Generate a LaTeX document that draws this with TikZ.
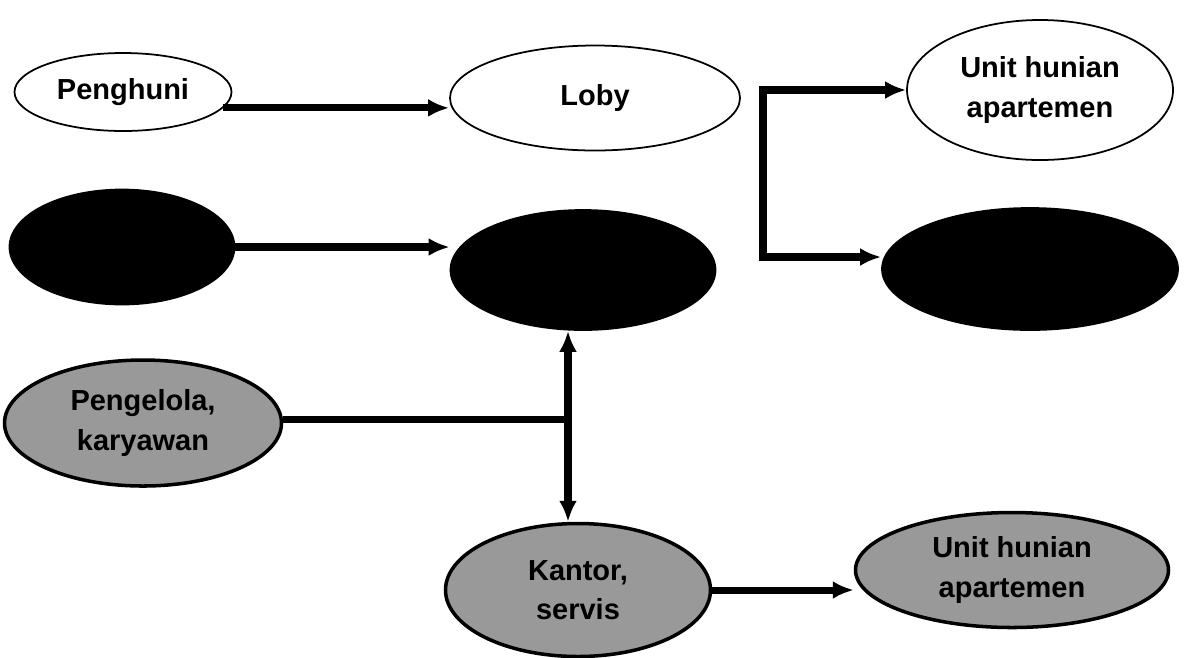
\documentclass[tikz,border=0pt]{standalone}
\usepackage{fontspec}
\setmainfont{Liberation Sans}
\usetikzlibrary{shapes.geometric,arrows.meta}

\begin{document}
\begin{tikzpicture}[x=0.02cm,y=-0.02cm,
  every node/.style={ellipse,draw,inner sep=0pt,align=center,
    font=\fontsize{16.5}{22.5}\selectfont\bfseries},
  plain/.style={fill=white,line width=1pt},
  dark/.style={fill=black,line width=1pt},
  shade/.style={fill=black!40,line width=2pt},
  thk/.style={line width=4pt},
  arr/.style={thk,-{Latex[length=0.42cm,width=0.36cm]}},
  dbl/.style={thk,{Latex[length=0.42cm,width=0.36cm]}-{Latex[length=0.42cm,width=0.36cm]}}]
\useasboundingbox (0,0) rectangle (1199,657);
% top row
\node [plain,minimum width=217*0.02cm,minimum height=78*0.02cm] (peng) at (123,92) {Penghuni};
\node [plain,minimum width=290*0.02cm,minimum height=105*0.02cm] (loby) at (595,98) {Loby};
\node [plain,minimum width=266*0.02cm,minimum height=140*0.02cm] (unitA) at (1040,90) {Unit hunian\\apartemen};
% black row
\node [dark,minimum width=225*0.02cm,minimum height=115*0.02cm] (dkA) at (122,247) {};
\node [dark,minimum width=265*0.02cm,minimum height=120*0.02cm] (dkB) at (583,270) {};
\node [dark,minimum width=296*0.02cm,minimum height=122*0.02cm] (dkC) at (1030,269) {};
% grey row
\node [shade,minimum width=277*0.02cm,minimum height=126*0.02cm] (kelola) at (143,423) {Pengelola,\\karyawan};
\node [shade,minimum width=265*0.02cm,minimum height=133*0.02cm] (kantor) at (578,590) {Kantor,\\servis};
\node [shade,minimum width=313*0.02cm,minimum height=115*0.02cm] (unitB) at (1012,570) {Unit hunian\\apartemen};

\coordinate (hub) at (568,419);
\coordinate (brkT) at (763,90);
\coordinate (brkB) at (763,257);

\draw [arr] (peng.-9) -- (peng.-9 -| loby.west);
\draw [arr] (dkA.east) -- (dkA.east -| dkB.west);
\draw [dbl] (unitA.west) -- (brkT) -- (brkB) -- (brkB -| dkC.west);
\draw [thk] (kelola.east |- hub) -- (hub);
\draw [dbl] (hub |- dkB.south) -- (hub |- kantor.north);
\draw [arr] (kantor.east) -- (kantor.east -| unitB.west);
\end{tikzpicture}
\end{document}
